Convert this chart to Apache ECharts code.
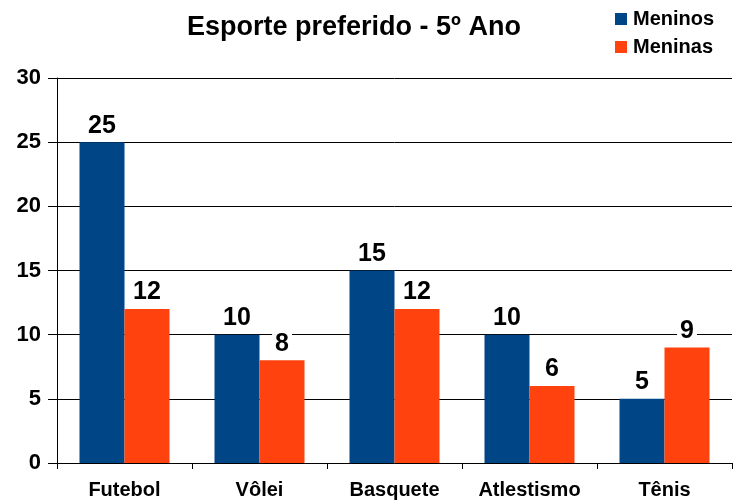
<!DOCTYPE html>
<html><head><meta charset="utf-8">
<script src="https://cdn.jsdelivr.net/npm/echarts@6/dist/echarts.min.js"></script>
<style>html,body{margin:0;padding:0;background:#fff}#c{width:734px;height:502px}</style>
</head><body><div id="c"></div>
<script>
const categories = ['Futebol', 'Vôlei', 'Basquete', 'Atlestismo', 'Tênis'];
const meninos = [25, 10, 15, 10, 5];
const meninas = [12, 8, 12, 6, 9];
const yTicks = [0, 5, 10, 15, 20, 25, 30];

const font = '"Liberation Sans", Arial, sans-serif';
const labelStyle = { show: true, position: 'top', distance: 4, fontFamily: font, fontSize: 25,
  fontWeight: 'bold', color: '#000', backgroundColor: '#fff', padding: [0, 3, 0, 3] };
const chart = echarts.init(document.getElementById('c'));
chart.setOption({
  animation: false,
  textStyle: { fontFamily: font },
  title: {
    text: 'Esporte preferido - 5º Ano',
    left: 349, top: 9, textAlign: 'center',
    textStyle: { fontFamily: font, fontSize: 27, fontWeight: 'bold', color: '#000' }
  },
  legend: {
    orient: 'vertical', left: 615, top: 9, itemWidth: 12, itemHeight: 12, itemGap: 8,
    icon: 'rect', padding: 0,
    textStyle: { fontFamily: font, fontSize: 20, fontWeight: 'bold', color: '#000', padding: [0,0,0,1] }
  },
  grid: { left: 57, right: 2, top: 78, bottom: 39, containLabel: false },
  xAxis: {
    type: 'category', data: categories,
    axisLine: { lineStyle: { color: '#000', width: 1 } },
    axisTick: { show: true, length: 6, lineStyle: { color: '#000' } },
    axisLabel: { fontFamily: font, fontSize: 20, fontWeight: 'bold', color: '#000', margin: 17 }
  },
  yAxis: {
    type: 'value', min: yTicks[0], max: yTicks[yTicks.length-1], interval: 5,
    axisLine: { show: true, lineStyle: { color: '#000' } },
    axisTick: { show: true, length: 9, lineStyle: { color: '#000' } },
    splitLine: { lineStyle: { color: '#000', width: 1 } },
    axisLabel: { fontFamily: font, fontSize: 22, fontWeight: 'bold', color: '#000', margin: 16 }
  },
  series: [
    { name: 'Meninos', type: 'bar', data: meninos, barWidth: 45, barGap: '0%',
      itemStyle: { color: '#004586' }, label: labelStyle },
    { name: 'Meninas', type: 'bar', data: meninas, barWidth: 45,
      itemStyle: { color: '#ff420e' }, label: labelStyle }
  ]
});
</script></body></html>
